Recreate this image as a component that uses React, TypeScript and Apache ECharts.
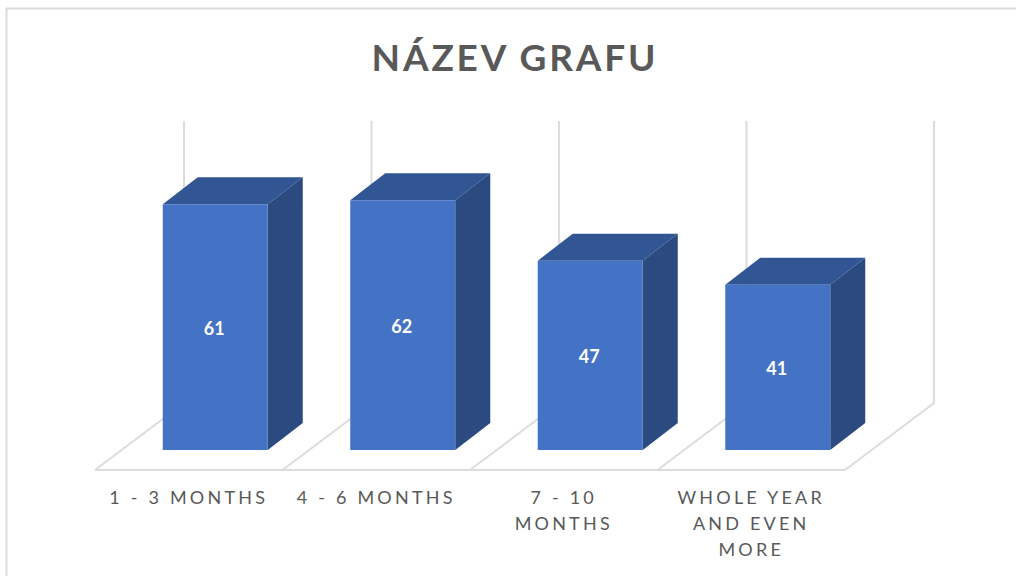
import React, { useEffect, useRef } from "react";
import * as echarts from "echarts";

const chartTitle = "NÁZEV GRAFU";
const categories = ["1 - 3 MONTHS", "4 - 6 MONTHS", "7 - 10\nMONTHS", "WHOLE YEAR\nAND EVEN\nMORE"];
const counts = [61, 62, 47, 41];

const FRONT = "#4472c4";
const SIDE = "#2a4a80";
const TOP = "#325694";
const WALL = "#dcdcdc";
const TEXT = "#595959";
const FONT = "Lato";

// oblique projection of the 3D plot
const BAR_SHIFT_X = 26.5;
const BAR_SHIFT_Y = -20;
const BAR_DEPTH_X = 35;
const BAR_DEPTH_Y = -27;
const WALL_DEPTH_X = 89;
const WALL_DEPTH_Y = -67;
const BAR_RATIO = 0.56;

function renderWalls(params: any, api: any) {
  const cs = params.coordSys;
  const band = cs.width / categories.length;
  const base = cs.y + cs.height;
  const lineStyle = { stroke: WALL, lineWidth: 2, fill: "none" };
  const children: any[] = [];
  for (let i = 0; i <= categories.length; i++) {
    const x = cs.x + i * band;
    children.push({
      type: "polyline",
      shape: { points: [[x, base], [x + WALL_DEPTH_X, base + WALL_DEPTH_Y], [x + WALL_DEPTH_X, cs.y + WALL_DEPTH_Y]] },
      style: lineStyle,
    });
  }
  children.push({
    type: "line",
    shape: { x1: cs.x, y1: base, x2: cs.x + cs.width, y2: base },
    style: lineStyle,
  });
  return { type: "group", children };
}

function renderBar(params: any, api: any) {
  const idx = api.value(0);
  const val = api.value(1);
  const top = api.coord([idx, val]);
  const bottom = api.coord([idx, 0]);
  const w = api.size([1, 0])[0] * BAR_RATIO;
  const x0 = top[0] + BAR_SHIFT_X - w / 2;
  const x1 = x0 + w;
  const y0 = top[1] + BAR_SHIFT_Y;
  const y1 = bottom[1] + BAR_SHIFT_Y;
  const dx = BAR_DEPTH_X;
  const dy = BAR_DEPTH_Y;
  return {
    type: "group",
    children: [
      { type: "polygon", shape: { points: [[x0, y0], [x1, y0], [x1 + dx, y0 + dy], [x0 + dx, y0 + dy]] }, style: { fill: TOP } },
      { type: "polygon", shape: { points: [[x1, y0], [x1 + dx, y0 + dy], [x1 + dx, y1 + dy], [x1, y1]] }, style: { fill: SIDE } },
      { type: "rect", shape: { x: x0, y: y0, width: w, height: y1 - y0 }, style: { fill: FRONT } },
      {
        type: "text",
        style: {
          x: (x0 + x1) / 2 - 1,
          y: (y0 + y1) / 2 + 0.5,
          text: String(val),
          fill: "#ffffff",
          font: `bold 18px ${FONT}`,
          textAlign: "center",
          textVerticalAlign: "middle",
        },
      },
    ],
  };
}

export default function App() {
  const ref = useRef<HTMLDivElement>(null);
  useEffect(() => {
    document.body.style.margin = "0";
    const chart = echarts.init(ref.current!, null, { renderer: "svg" });
    chart.setOption({
      animation: false,
      backgroundColor: "#ffffff",
      title: {
        text: chartTitle,
        left: 510,
        top: 33,
        textAlign: "center",
        textStyle: { color: TEXT, fontFamily: FONT, fontWeight: "bold", fontSize: 37 },
      },
      grid: { left: 95, top: 188, width: 750, height: 282 },
      xAxis: {
        type: "category",
        data: categories,
        axisLine: { show: false },
        axisTick: { show: false },
        splitLine: { show: false },
        axisLabel: {
          interval: 0,
          margin: 14,
          color: TEXT,
          fontFamily: FONT,
          fontSize: 18,
          lineHeight: 26,
          verticalAlign: "top",
        },
      },
      yAxis: { type: "value", min: 0, max: 70, show: false },
      graphic: [
        {
          type: "polyline",
          shape: { points: [[6.5, 576], [6.5, 8.5], [1016, 8.5]] },
          style: { stroke: WALL, lineWidth: 2, fill: "none" },
          silent: true,
        },
      ],
      series: [
        { type: "custom", coordinateSystem: "cartesian2d", renderItem: renderWalls, data: [[0, 0]], silent: true, clip: false, z: 1 },
        {
          type: "custom",
          coordinateSystem: "cartesian2d",
          renderItem: renderBar,
          data: counts.map((v, i) => [i, v]),
          encode: { x: 0, y: 1 },
          clip: false,
          z: 2,
        },
      ],
    });
    return () => chart.dispose();
  }, []);
  return (
    <>
      <style>{`
        svg text[style*="37px"] { letter-spacing: 2.8px; }
        svg text[style*=" 18px"]:not([style*="bold"]) { letter-spacing: 3.2px; }
      `}</style>
      <div ref={ref} style={{ position: "absolute", left: 0, top: 0, width: 1016, height: 576 }} />
    </>
  );
}
